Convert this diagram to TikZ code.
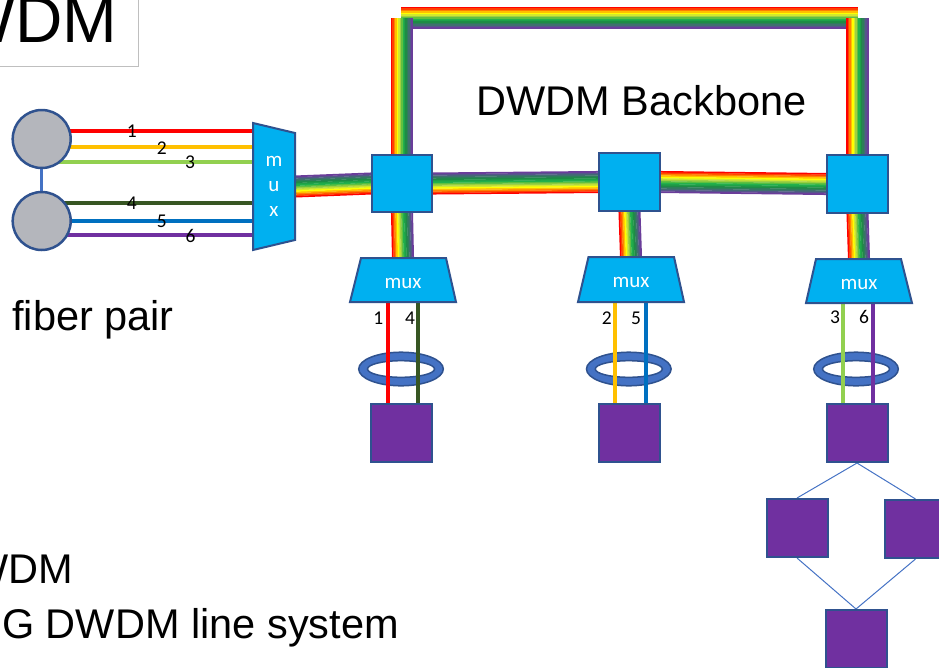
\documentclass[tikz,border=0pt]{standalone}
\usepackage{fontspec}
\setmainfont{Liberation Sans}
\newfontfamily\carl{Carlito}
\usetikzlibrary{calc,backgrounds}
\definecolor{swblue}{HTML}{00B0F0}
\definecolor{edge}{HTML}{2F528F}
\definecolor{ringblue}{HTML}{4472C4}
\definecolor{cgray}{HTML}{B4B6BC}
\definecolor{boxgray}{HTML}{BFBFBF}
\definecolor{fred}{HTML}{FF0000}
\definecolor{forange}{HTML}{FFC000}
\definecolor{flgreen}{HTML}{92D050}
\definecolor{fdgreen}{HTML}{375623}
\definecolor{fblue}{HTML}{0070C0}
\definecolor{fpurple}{HTML}{7030A0}
% rainbow bands, red to purple
\definecolor{rb0}{HTML}{FF0000}
\definecolor{rb1}{HTML}{FF4000}
\definecolor{rb2}{HTML}{FF8000}
\definecolor{rb3}{HTML}{FFBF00}
\definecolor{rb4}{HTML}{FFFF00}
\definecolor{rb5}{HTML}{D0E830}
\definecolor{rb6}{HTML}{A0D040}
\definecolor{rb7}{HTML}{60C040}
\definecolor{rb8}{HTML}{22B14C}
\definecolor{rb9}{HTML}{1FA048}
\definecolor{rb10}{HTML}{1E8B45}
\definecolor{rb11}{HTML}{2E7D5A}
\definecolor{rb12}{HTML}{3F6F6F}
\definecolor{rb13}{HTML}{55568A}
\definecolor{rb14}{HTML}{6A3D9A}
% rainbow link: #1 from, #2 to, #3 = 1 (bands across x) or 0 (bands across y), #4 = +1/-1 order
\newcommand\rblink[4]{%
  \foreach \i in {0,...,14}{%
    \pgfmathsetmacro\off{#4*(\i-7)*1.45}%
    \ifnum#3=1
      \draw[rb\i, line width=1.75] ($(#1)+(\off,0)$) -- ($(#2)+(\off,0)$);
    \else
      \draw[rb\i, line width=1.75] ($(#1)+(0,\off)$) -- ($(#2)+(0,\off)$);
    \fi
  }%
}
\begin{document}
\begin{tikzpicture}[x=1pt,y=-1pt,
  sw/.style={draw=edge, fill=swblue, line width=2, minimum width=60, minimum height=57, inner sep=0},
  dev/.style={draw=edge, fill=fpurple, line width=2, minimum width=61, minimum height=58, inner sep=0},
  muxshape/.style={draw=edge, fill=swblue, line width=2, line join=miter},
  muxlbl/.style={inner sep=0, text=white, font=\carl\fontsize{21}{25}\selectfont},
  wire/.style={line width=4},
  num/.style={inner sep=0, font=\carl\fontsize{19.5}{19.5}\selectfont, text height=12.3, text depth=0},
  ring/.style={fill=ringblue, draw=edge, line width=1.5, even odd rule},
  fiberend/.style={circle, minimum size=58, inner sep=0, fill=cgray, draw=edge, line width=2.5},
  thinlink/.style={draw=ringblue, line width=1},
  big/.style={inner sep=0, font=\fontsize{41.5}{41.5}\selectfont},
]
\useasboundingbox (0,0) rectangle (939,667);
\clip (0,0) rectangle (939,667);

% fiber ends
\node[fiberend] (c1) at (41.7,139) {};
\node[fiberend] (c2) at (41.7,221) {};

% switches
\node[sw] (s1) at (402,183.5) {};
\node[sw, minimum width=61, minimum height=58] (s2) at (629.5,182) {};
\node[sw, minimum width=61, minimum height=58] (s3) at (857.5,184) {};

% muxes
\draw[muxshape] (253,123) -- (295,133) -- (295,240) -- (253,250) -- cycle;
\node[muxlbl, align=center, minimum width=42, minimum height=127] (m0) at (274,186.5) {m\\u\\x};
\draw[muxshape] (350,302) -- (361,258) -- (446,258) -- (456,302) -- cycle;
\node[muxlbl, minimum width=106, minimum height=44, text height=16, text depth=0] (m1) at (403,280) {mux};
\draw[muxshape] (578,302) -- (588.5,257) -- (674,257) -- (684,302) -- cycle;
\node[muxlbl, minimum width=106, minimum height=45, text height=16, text depth=0] (m2) at (631,279.5) {mux};
\draw[muxshape] (806,303) -- (816,259) -- (901,259) -- (912,303) -- cycle;
\node[muxlbl, minimum width=106, minimum height=44, text height=16, text depth=0] (m3) at (859,281) {mux};

% devices
\node[dev] (p1) at (401.5,433) {};
\node[dev] (p2) at (629,433) {};
\node[dev] (p3) at (857,433) {};
\node[dev] (p4) at (797,528) {};
\node[dev] (p5) at (915.5,529) {};
\node[dev] (p6) at (856,639) {};

\coordinate (tl) at ($(s1.north |- 0,18)+(-1,0)$);
\coordinate (tr) at ($(s3.north |- 0,18)+(0.5,0)$);
\coordinate (tlv) at (s1.north |- 0,18);
\coordinate (trv) at (s3.north |- 0,18);

\begin{pgfonlayer}{background}
  % rainbow backbone
  \rblink{tl}{tr}{0}{1}
  \rblink{tlv}{s1.north}{1}{1}
  \rblink{trv}{s3.north}{1}{1}
  \rblink{m0.east}{s1.west}{0}{-1}
  \rblink{s1.east}{s2.west}{0}{-1}
  \rblink{s2.east}{s3.west}{0}{1}
  \rblink{s1.south}{m1.north}{1}{1}
  \rblink{s2.south}{m2.north}{1}{1}
  \rblink{s3.south}{m3.north}{1}{1}

  % fiber pair
  \draw[ringblue, line width=3.5] (c1) -- (c2);
  \draw[wire, fred]    (c1.center |- 0,131) -- (m0.west |- 0,131);
  \draw[wire, forange] (c1.center |- 0,147) -- (m0.west |- 0,147);
  \draw[wire, flgreen] (c1.center |- 0,162) -- (m0.west |- 0,162);
  \draw[wire, fdgreen] (c2.center |- 0,203) -- (m0.west |- 0,203);
  \draw[wire, fblue]   (c2.center |- 0,221) -- (m0.west |- 0,221);
  \draw[wire, fpurple] (c2.center |- 0,235) -- (m0.west |- 0,235);

  % rings
  \path[ring] (401,369) ellipse [x radius=42.3, y radius=16.8] (401,369) ellipse [x radius=33.5, y radius=8.3];
  \path[ring] (628.8,369) ellipse [x radius=42.3, y radius=16.8] (628.8,369) ellipse [x radius=33.5, y radius=8.3];
  \path[ring] (856,369) ellipse [x radius=42.3, y radius=16.8] (856,369) ellipse [x radius=33.5, y radius=8.3];

  % drop wires
  \draw[wire, fred]    (388,0 |- m1.south) -- (388,0 |- p1.north);
  \draw[wire, fdgreen] (418.3,0 |- m1.south) -- (418.3,0 |- p1.north);
  \draw[wire, forange] (615,0 |- m2.south) -- (615,0 |- p2.north);
  \draw[wire, fblue]   (645.7,0 |- m2.south) -- (645.7,0 |- p2.north);
  \draw[wire, flgreen] (842.7,0 |- m3.south) -- (842.7,0 |- p3.north);
  \draw[wire, fpurple] (873.3,0 |- m3.south) -- (873.3,0 |- p3.north);

  % device links
  \draw[thinlink] (p3.south) -- (p4.north);
  \draw[thinlink] (p3.south) -- (p5.north);
  \draw[thinlink] (p4.south) -- (p6.north);
  \draw[thinlink] (p5.south) -- (p6.north);
\end{pgfonlayer}

% channel numbers
\node[num] (n1) at (131.7,131) {1};
\node[num] (n2) at (161.7,148) {2};
\node[num] (n3) at (190,162.5) {3};
\node[num] (n4) at (131.7,203) {4};
\node[num] (n5) at (161.7,221) {5};
\node[num] (n6) at (190.5,236) {6};
\node[num] (d1) at (378.3,318) {1};
\node[num] (d4) at (410,318) {4};
\node[num] (d2) at (606.7,318) {2};
\node[num] (d5) at (636,318) {5};
\node[num] (d3) at (835,317) {3};
\node[num] (d6) at (864,317) {6};

% texts
\node[draw=boxgray, line width=1.2, inner xsep=21, inner ysep=23.7, anchor=south east, font=\fontsize{65.6}{65.6}\selectfont] (title) at (139,67) {WDM};
\node[big, anchor=base west] (backbone) at (476.5,115) {DWDM Backbone};
\node[big, anchor=base west] (fp) at (12.2,330) {fiber pair};
\node[big, anchor=base east] (t1) at (73,583.7) {WDM};
\node[big, anchor=base west] (t2) at (2,638.7) {G DWDM line system};
\end{tikzpicture}
\end{document}
